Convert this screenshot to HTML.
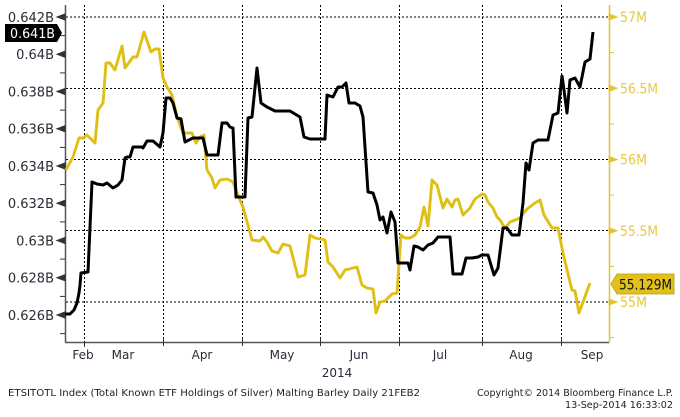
<!DOCTYPE html>
<html><head><meta charset="utf-8">
<style>
html,body{margin:0;padding:0;background:#fff;}
svg{display:block;}
text{font-family:"DejaVu Sans","Liberation Sans",sans-serif;}
</style></head>
<body>
<svg width="680" height="417" viewBox="0 0 680 417" xmlns="http://www.w3.org/2000/svg">
<rect width="680" height="417" fill="#fff"/>
<!-- gridlines -->
<g stroke="#000" stroke-width="1" stroke-dasharray="2,2" fill="none">
<line x1="66" y1="17" x2="609" y2="17"/>
<line x1="66" y1="88.5" x2="609" y2="88.5"/>
<line x1="66" y1="159.5" x2="609" y2="159.5"/>
<line x1="66" y1="230.5" x2="609" y2="230.5"/>
<line x1="66" y1="302" x2="609" y2="302"/>
<line x1="84.5" y1="5" x2="84.5" y2="342"/>
<line x1="163.5" y1="5" x2="163.5" y2="342"/>
<line x1="242.5" y1="5" x2="242.5" y2="342"/>
<line x1="320.5" y1="5" x2="320.5" y2="342"/>
<line x1="399.5" y1="5" x2="399.5" y2="342"/>
<line x1="482.5" y1="5" x2="482.5" y2="342"/>
<line x1="561.5" y1="5" x2="561.5" y2="342"/>
</g>
<!-- axes -->
<line x1="65.5" y1="5" x2="65.5" y2="342.5" stroke="#555" stroke-width="1.5"/>
<line x1="65" y1="342.5" x2="609" y2="342.5" stroke="#555" stroke-width="1.5"/>
<line x1="609.5" y1="5" x2="609.5" y2="342.5" stroke="#e2c52e" stroke-width="1.5"/>
<!-- bottom ticks -->
<g stroke="#333" stroke-width="1">
<line x1="84.5" y1="342" x2="84.5" y2="347"/>
<line x1="163.5" y1="338" x2="163.5" y2="346"/>
<line x1="242.5" y1="338" x2="242.5" y2="346"/>
<line x1="320.5" y1="338" x2="320.5" y2="346"/>
<line x1="399.5" y1="338" x2="399.5" y2="346"/>
<line x1="482.5" y1="338" x2="482.5" y2="346"/>
<line x1="561.5" y1="338" x2="561.5" y2="346"/>
</g>
<!-- left ticks -->
<g fill="#333" stroke="#333" stroke-width="1">
<polygon points="57,17 65,14 65,20"/>
<polygon points="57,54.25 65,51.25 65,57.25"/>
<polygon points="57,91.5 65,88.5 65,94.5"/>
<polygon points="57,128.75 65,125.75 65,131.75"/>
<polygon points="57,166 65,163 65,169"/>
<polygon points="57,203.25 65,200.25 65,206.25"/>
<polygon points="57,240.5 65,237.5 65,243.5"/>
<polygon points="57,277.75 65,274.75 65,280.75"/>
<polygon points="57,315 65,312 65,318"/>
<line x1="60" y1="35.6" x2="65" y2="35.6"/>
<line x1="60" y1="72.9" x2="65" y2="72.9"/>
<line x1="60" y1="110.1" x2="65" y2="110.1"/>
<line x1="60" y1="147.4" x2="65" y2="147.4"/>
<line x1="60" y1="184.6" x2="65" y2="184.6"/>
<line x1="60" y1="221.9" x2="65" y2="221.9"/>
<line x1="60" y1="259.1" x2="65" y2="259.1"/>
<line x1="60" y1="296.4" x2="65" y2="296.4"/>
<line x1="60" y1="333.6" x2="65" y2="333.6"/>
</g>
<!-- right ticks -->
<g fill="#e2c52e" stroke="#e2c52e" stroke-width="1">
<polygon points="617,17 609,14 609,20"/>
<polygon points="617,88.25 609,85.25 609,91.25"/>
<polygon points="617,159.5 609,156.5 609,162.5"/>
<polygon points="617,230.75 609,227.75 609,233.75"/>
<polygon points="617,302 609,299 609,305"/>
<line x1="609" y1="52.6" x2="614" y2="52.6"/>
<line x1="609" y1="123.9" x2="614" y2="123.9"/>
<line x1="609" y1="195.1" x2="614" y2="195.1"/>
<line x1="609" y1="266.4" x2="614" y2="266.4"/>
<line x1="609" y1="337.6" x2="614" y2="337.6"/>
</g>
<!-- left labels -->
<g fill="#2b2b38" font-size="13" text-anchor="end">
<text x="54" y="22">0.642B</text>
<text x="54" y="59">0.64B</text>
<text x="54" y="96.5">0.638B</text>
<text x="54" y="133.5">0.636B</text>
<text x="54" y="171">0.634B</text>
<text x="54" y="208">0.632B</text>
<text x="54" y="245.5">0.63B</text>
<text x="54" y="282.5">0.628B</text>
<text x="54" y="320">0.626B</text>
</g>
<!-- right labels -->
<g fill="#e6c93c" font-size="14">
<text x="620" y="22" textLength="27" lengthAdjust="spacingAndGlyphs">57M</text>
<text x="620" y="93.5" textLength="38" lengthAdjust="spacingAndGlyphs">56.5M</text>
<text x="620" y="164.5" textLength="27" lengthAdjust="spacingAndGlyphs">56M</text>
<text x="620" y="236" textLength="38" lengthAdjust="spacingAndGlyphs">55.5M</text>
<text x="620" y="307" textLength="27" lengthAdjust="spacingAndGlyphs">55M</text>
</g>
<!-- month labels -->
<g fill="#2b2b38" font-size="12" text-anchor="middle">
<text x="83" y="359">Feb</text>
<text x="123" y="359">Mar</text>
<text x="202" y="359">Apr</text>
<text x="282" y="359">May</text>
<text x="359" y="359">Jun</text>
<text x="440" y="359">Jul</text>
<text x="521" y="359">Aug</text>
<text x="592" y="359">Sep</text>
<text x="337" y="377">2014</text>
</g>
<!-- yellow series -->
<polyline fill="none" stroke="#e0bf14" stroke-width="2.9" stroke-linejoin="round" points="66,170 73,157 79,138 83,138 87,135 92,140 95,143 98,110 103,103 106,63 110,63 115,70 122,46 125,68 133,57 137,57 144,32 151,52 155,49 159,49 163,78 167,87 172,95 177,117 183,133 192,133 196,143 200,137 204,135 207,170 212,178 215,188 220,180 227,179 233,182 237,193 243,207 252,240 260,241 263,237 267,242 272,251 278,253 283,244 290,246 298,277 305,275 310,235 315,238 325,240 328,262 333,267 340,278 345,270 357,267 362,285 367,288 373,289 376,313 380,302 385,301 392,294 397,293 401,235 405,238 410,238 415,235 420,227 424,207 428,226 432,180 437,185 443,208 447,199 452,207 455,200 458,199 463,215 470,208 475,199 482,194 485,195 488,202 493,208 497,217 500,220 505,228 510,222 515,220 520,218 527,209 535,203 540,200 544,215 552,228 558,228 563,253 568,274 572,290 575,291 579,313 583,302 590,283"/>
<!-- black series -->
<polyline fill="none" stroke="#000" stroke-width="3" stroke-linejoin="round" points="65,314 70,314 74,310 77,303 79,293 80,285 81,273 88,272 92,182 97,184 103,185 107,183 113,188 118,185 122,180 125,158 127,157 130,157 133,147 142,147 143,148 147,141 153,141 160,147 163,133 166,98 170,98 173,103 177,118 181,119 185,142 193,138 203,138 207,155 218,155 222,123 227,123 230,127 233,128 236,197 245,197 248,118 252,117 257,68 261,103 267,107 275,111 290,111 300,117 304,137 310,139 325,139 327,95 333,97 338,87 342,87 346,83 349,103 355,103 360,106 363,117 368,192 373,193 377,205 380,220 383,217 387,233 391,212 395,222 398,263 408,263 410,270 414,246 418,247 423,250 428,245 433,243 438,237 450,237 453,274 462,274 466,258 472,258 478,257 482,255 488,255 494,275 498,268 503,228 507,228 512,235 519,235 523,203 526,163 529,170 533,143 538,140 548,140 553,115 558,113 562,76 564,90 567,113 570,80 575,78 580,87 585,62 590,59 593,32"/>
<!-- black tag -->
<polygon points="5,24 57,24 62,33 57,42 5,42" fill="#000"/>
<text x="10" y="38" fill="#fff" font-size="13" textLength="45" lengthAdjust="spacingAndGlyphs">0.641B</text>
<!-- yellow tag -->
<polygon points="611,284 617,274 674,274 674,294 617,294" fill="#e3c11a" stroke="#b89a10" stroke-width="0.8"/>
<text x="619" y="289.5" fill="#111" font-size="14" textLength="53" lengthAdjust="spacingAndGlyphs">55.129M</text>
<!-- footer -->
<g fill="#222" font-size="10">
<text x="8" y="396" textLength="412" lengthAdjust="spacingAndGlyphs">ETSITOTL Index (Total Known ETF Holdings of Silver) Malting Barley  Daily 21FEB2</text>
<text x="477" y="396" textLength="196" lengthAdjust="spacingAndGlyphs">Copyright© 2014 Bloomberg Finance L.P.</text>
<text x="565" y="408" textLength="108" lengthAdjust="spacingAndGlyphs">13-Sep-2014 16:33:02</text>
</g>
</svg>
</body></html>
